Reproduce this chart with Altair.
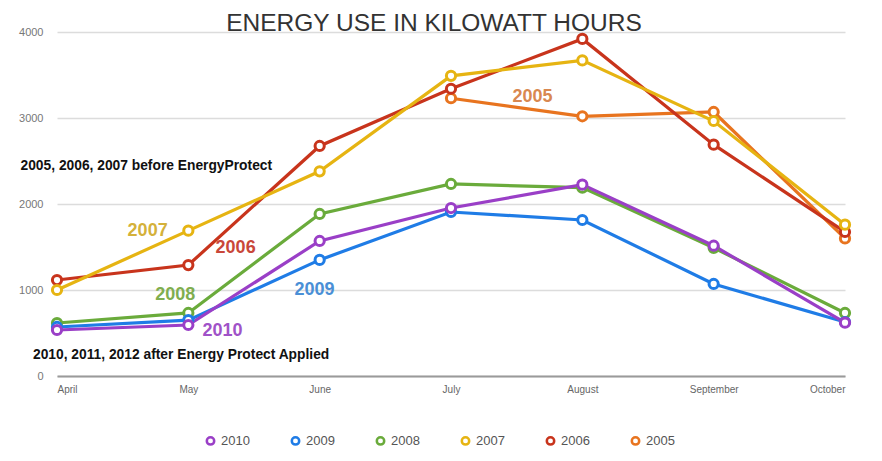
import altair as alt
import pandas as pd

months = ["April", "May", "June", "July", "August", "September", "October"]
years = ["2005", "2006", "2007", "2008", "2009", "2010"]
y2005 = [None, None, None, 3230, 3020, 3070, 1600]
y2006 = [1116, 1290, 2675, 3340, 3920, 2690, 1675]
y2007 = [1000, 1690, 2380, 3490, 3670, 2965, 1760]
y2008 = [616, 733, 1884, 2233, 2190, 1490, 733]
y2009 = [570, 650, 1350, 1907, 1814, 1070, 628]
y2010 = [535, 593, 1570, 1953, 2225, 1515, 620]

legend_order = ["2010", "2009", "2008", "2007", "2006", "2005"]
line_colors = ["#9a3fc7", "#1f7ce6", "#6aab3b", "#e6b412", "#c8341c", "#e8741f"]

# annotation labels (month index position, value position)
ann_text = ["2005", "2007", "2006", "2008", "2009", "2010"]
ann_x = [3.62, 0.69, 1.36, 0.90, 1.96, 1.26]
ann_y = [3244, 1686, 1488, 942, 1000, 523]
ann_col = ["#d98850", "#d4b13a", "#c9473a", "#7fae4f", "#4a8fd6", "#a052c8"]

note_text = ["2005, 2006, 2007 before EnergyProtect",
             "2010, 2011, 2012 after Energy Protect Applied"]
note_x = [0.68, 0.945]
note_y = [2442, 244]

series = {"2005": y2005, "2006": y2006, "2007": y2007,
          "2008": y2008, "2009": y2009, "2010": y2010}
rows = []
for yr in years:
    for i, v in enumerate(series[yr]):
        if v is not None:
            rows.append({"year": yr, "idx": i, "month": months[i], "kwh": v})
df = pd.DataFrame(rows)

ann_df = pd.DataFrame({"t": ann_text, "x": ann_x, "y": ann_y, "c": ann_col})
note_df = pd.DataFrame({"t": note_text, "x": note_x, "y": note_y})

label_expr = "[" + ",".join("'%s'" % m for m in months) + "][datum.value]"

xscale = alt.Scale(domain=[0, 6], nice=False, zero=False)
yscale = alt.Scale(domain=[0, 4000], nice=False)

base = alt.Chart(df)

lines = base.mark_line(strokeWidth=3.2, point=alt.OverlayMarkDef(
    filled=False, fill="white", fillOpacity=1, size=85, strokeWidth=3)).encode(
    x=alt.X("idx:Q", scale=xscale, title=None,
            axis=alt.Axis(values=list(range(7)), labelExpr=label_expr,
                          grid=False, ticks=False, domainColor="#9a9a9a",
                          domainWidth=2, labelColor="#666", labelFontSize=10,
                          labelFont="Liberation Sans", labelPadding=8)),
    y=alt.Y("kwh:Q", scale=yscale, title=None,
            axis=alt.Axis(values=[0, 1000, 2000, 3000, 4000], format="d",
                          grid=True, gridColor="#dcdcdc", gridWidth=1.5,
                          domain=False, ticks=False, labelColor="#777",
                          labelFontSize=11, labelFont="Liberation Sans",
                          labelPadding=14)),
    color=alt.Color("year:N",
                    scale=alt.Scale(domain=legend_order, range=line_colors),
                    legend=alt.Legend(title=None, orient="none",
                                      legendX=147, legendY=402,
                                      direction="horizontal",
                                      symbolType="circle",
                                      symbolFillColor="white",
                                      symbolStrokeWidth=2.5, symbolSize=55,
                                      labelFontSize=13, labelColor="#555",
                                      labelFont="Liberation Sans",
                                      columnPadding=36)),
    order=alt.Order("year:N"),
)

ann = alt.Chart(ann_df).mark_text(fontSize=18, fontWeight="bold",
                                  font="Liberation Sans").encode(
    x=alt.X("x:Q", scale=xscale),
    y=alt.Y("y:Q", scale=yscale),
    text="t:N",
    color=alt.Color("c:N", scale=None),
)

notes = alt.Chart(note_df).mark_text(fontSize=13.8, fontWeight="bold",
                                     font="Liberation Sans",
                                     color="#111").encode(
    x=alt.X("x:Q", scale=xscale),
    y=alt.Y("y:Q", scale=yscale),
    text="t:N",
)

chart = alt.layer(lines, ann, notes).properties(
    width=788, height=344,
    padding={"left": 49, "top": 24, "right": 29, "bottom": 77},
    autosize=alt.AutoSizeParams(type="none"),
    title=alt.TitleParams("ENERGY USE IN KILOWATT HOURS", fontSize=24.5,
                          font="Liberation Sans", fontWeight="normal",
                          color="#333", anchor="middle", dx=-17, offset=-10),
).configure_view(stroke=None)

chart.save("out.html", embed_options={"renderer": "svg", "actions": False})
